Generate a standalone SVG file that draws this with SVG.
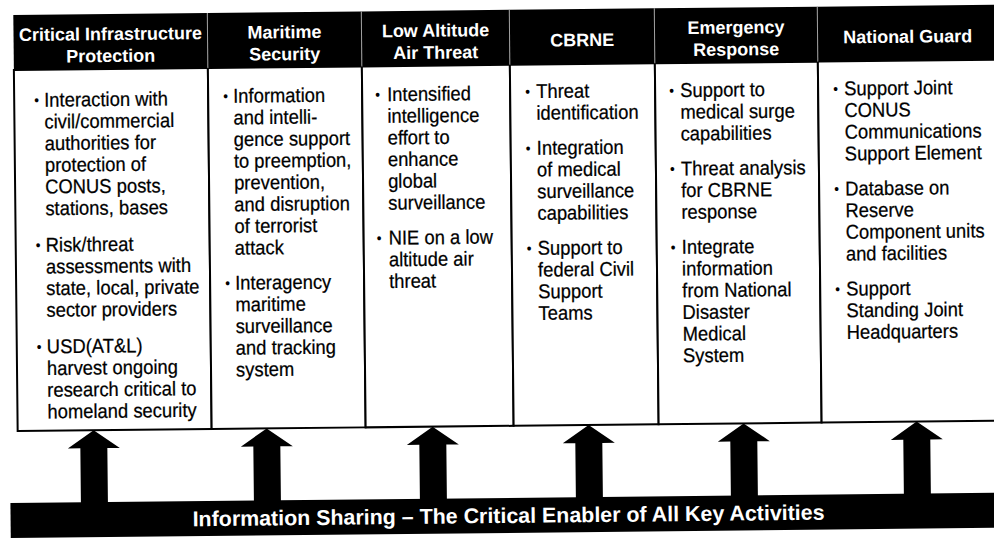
<svg xmlns="http://www.w3.org/2000/svg" width="994" height="540" viewBox="0 0 994 540">
<style>
.hdr{fill:#000}
.hsep{stroke:#a0a0a0;stroke-width:1}
.cell{fill:#fff;stroke:#000;stroke-width:2}
.ht{font-family:"Liberation Sans",Arial,Helvetica,sans-serif;font-weight:bold;font-size:18px;fill:#fff;text-anchor:middle}
.bt{font-family:"Liberation Sans",Arial,Helvetica,sans-serif;font-size:20px;fill:#000;stroke:#000;stroke-width:0.25}
.bu{font-family:"Liberation Sans",Arial,Helvetica,sans-serif;font-size:15px;fill:#000}
.arrow{fill:#000}
.bar{fill:#000}
.bart{font-family:"Liberation Sans",Arial,Helvetica,sans-serif;font-weight:bold;font-size:21.4px;fill:#fff;text-anchor:middle}
</style>
<rect width="994" height="540" fill="#fff"/>
<g transform="rotate(-0.6 497 270)">

<g id="connectors">
<path class="arrow" d="M92,426 L118,444 L105.5,444 L105.5,502 L78.5,502 L78.5,444 L66,444 Z"/>
<path class="arrow" d="M265,426 L291,444 L278.5,444 L278.5,502 L251.5,502 L251.5,444 L239,444 Z"/>
<path class="arrow" d="M431,426 L457,444 L444.5,444 L444.5,502 L417.5,502 L417.5,444 L405,444 Z"/>
<path class="arrow" d="M587,426 L613,444 L600.5,444 L600.5,502 L573.5,502 L573.5,444 L561,444 Z"/>
<path class="arrow" d="M742,426 L768,444 L755.5,444 L755.5,502 L728.5,502 L728.5,444 L716,444 Z"/>
<path class="arrow" d="M915,426 L941,444 L928.5,444 L928.5,502 L901.5,502 L901.5,444 L889,444 Z"/>
</g>

<g id="critical-infrastructure-protection">
<rect class="cell" x="16" y="65" width="194" height="361"/>
<rect class="hdr" x="16" y="10" width="194" height="55"/>
<text class="ht" x="113" y="36">Critical Infrastructure</text>
<text class="ht" x="113" y="58">Protection</text>
<g transform="translate(46,0) scale(0.92,1)">
<text class="bu" x="-10.9" y="100.5">•</text>
<text class="bt"><tspan x="0" y="102">Interaction with</tspan><tspan x="0" y="123.7">civil/commercial</tspan><tspan x="0" y="145.4">authorities for</tspan><tspan x="0" y="167.1">protection of</tspan><tspan x="0" y="188.8">CONUS posts,</tspan><tspan x="0" y="210.5">stations, bases</tspan></text>
<text class="bu" x="-10.9" y="245.5">•</text>
<text class="bt"><tspan x="0" y="247">Risk/threat</tspan><tspan x="0" y="268.7">assessments with</tspan><tspan x="0" y="290.4">state, local, private</tspan><tspan x="0" y="312.1">sector providers</tspan></text>
<text class="bu" x="-10.9" y="347.1">•</text>
<text class="bt"><tspan x="0" y="348.6">USD(AT&amp;L)</tspan><tspan x="0" y="370.3">harvest ongoing</tspan><tspan x="0" y="392">research critical to</tspan><tspan x="0" y="413.7">homeland security</tspan></text>
</g>
</g>

<g id="maritime-security">
<rect class="cell" x="210" y="65" width="154" height="361"/>
<rect class="hdr" x="210" y="10" width="154" height="55"/>
<line class="hsep" x1="210" y1="10" x2="210" y2="65"/>
<text class="ht" x="287" y="36">Maritime</text>
<text class="ht" x="287" y="58">Security</text>
<g transform="translate(235,0) scale(0.92,1)">
<text class="bu" x="-10.9" y="98.5">•</text>
<text class="bt"><tspan x="0" y="100">Information</tspan><tspan x="0" y="121.7">and intelli-</tspan><tspan x="0" y="143.4">gence support</tspan><tspan x="0" y="165.1">to preemption,</tspan><tspan x="0" y="186.8">prevention,</tspan><tspan x="0" y="208.5">and disruption</tspan><tspan x="0" y="230.2">of terrorist</tspan><tspan x="0" y="251.9">attack</tspan></text>
<text class="bu" x="-10.9" y="285.4">•</text>
<text class="bt"><tspan x="0" y="286.9">Interagency</tspan><tspan x="0" y="308.6">maritime</tspan><tspan x="0" y="330.3">surveillance</tspan><tspan x="0" y="352">and tracking</tspan><tspan x="0" y="373.7">system</tspan></text>
</g>
</g>

<g id="low-altitude-air-threat">
<rect class="cell" x="364" y="65" width="148" height="361"/>
<rect class="hdr" x="364" y="10" width="148" height="55"/>
<line class="hsep" x1="364" y1="10" x2="364" y2="65"/>
<text class="ht" x="438" y="36">Low Altitude</text>
<text class="ht" x="438" y="58">Air Threat</text>
<g transform="translate(389,0) scale(0.92,1)">
<text class="bu" x="-13" y="98.5">•</text>
<text class="bt"><tspan x="0" y="100">Intensified</tspan><tspan x="0" y="121.7">intelligence</tspan><tspan x="0" y="143.4">effort to</tspan><tspan x="0" y="165.1">enhance</tspan><tspan x="0" y="186.8">global</tspan><tspan x="0" y="208.5">surveillance</tspan></text>
<text class="bu" x="-13" y="242">•</text>
<text class="bt"><tspan x="0" y="243.5">NIE on a low</tspan><tspan x="0" y="265.2">altitude air</tspan><tspan x="0" y="286.9">threat</tspan></text>
</g>
</g>

<g id="cbrne">
<rect class="cell" x="512" y="65" width="145" height="361"/>
<rect class="hdr" x="512" y="10" width="145" height="55"/>
<line class="hsep" x1="512" y1="10" x2="512" y2="65"/>
<text class="ht" x="584.5" y="47">CBRNE</text>
<g transform="translate(538,0) scale(0.92,1)">
<text class="bu" x="-12" y="97">•</text>
<text class="bt"><tspan x="0" y="98.5">Threat</tspan><tspan x="0" y="120.2">identification</tspan></text>
<text class="bu" x="-12" y="153.7">•</text>
<text class="bt"><tspan x="0" y="155.2">Integration</tspan><tspan x="0" y="176.9">of medical</tspan><tspan x="0" y="198.6">surveillance</tspan><tspan x="0" y="220.3">capabilities</tspan></text>
<text class="bu" x="-12" y="253.8">•</text>
<text class="bt"><tspan x="0" y="255.3">Support to</tspan><tspan x="0" y="277">federal Civil</tspan><tspan x="0" y="298.7">Support</tspan><tspan x="0" y="320.4">Teams</tspan></text>
</g>
</g>

<g id="emergency-response">
<rect class="cell" x="657" y="65" width="163" height="361"/>
<rect class="hdr" x="657" y="10" width="163" height="55"/>
<line class="hsep" x1="657" y1="10" x2="657" y2="65"/>
<text class="ht" x="738.5" y="36">Emergency</text>
<text class="ht" x="738.5" y="58">Response</text>
<g transform="translate(682,0) scale(0.92,1)">
<text class="bu" x="-12" y="97.5">•</text>
<text class="bt"><tspan x="0" y="99">Support to</tspan><tspan x="0" y="120.7">medical surge</tspan><tspan x="0" y="142.4">capabilities</tspan></text>
<text class="bu" x="-12" y="175.9">•</text>
<text class="bt"><tspan x="0" y="177.4">Threat analysis</tspan><tspan x="0" y="199.1">for CBRNE</tspan><tspan x="0" y="220.8">response</tspan></text>
<text class="bu" x="-12" y="254.3">•</text>
<text class="bt"><tspan x="0" y="255.8">Integrate</tspan><tspan x="0" y="277.5">information</tspan><tspan x="0" y="299.2">from National</tspan><tspan x="0" y="320.9">Disaster</tspan><tspan x="0" y="342.6">Medical</tspan><tspan x="0" y="364.3">System</tspan></text>
</g>
</g>

<g id="national-guard">
<rect class="cell" x="820" y="65" width="184" height="361"/>
<rect class="hdr" x="820" y="10" width="184" height="55"/>
<line class="hsep" x1="820" y1="10" x2="820" y2="65"/>
<text class="ht" x="910" y="47">National Guard</text>
<g transform="translate(846,0) scale(0.92,1)">
<text class="bu" x="-12" y="97.5">•</text>
<text class="bt"><tspan x="0" y="99">Support Joint</tspan><tspan x="0" y="120.7">CONUS</tspan><tspan x="0" y="142.4">Communications</tspan><tspan x="0" y="164.1">Support Element</tspan></text>
<text class="bu" x="-12" y="197.6">•</text>
<text class="bt"><tspan x="0" y="199.1">Database on</tspan><tspan x="0" y="220.8">Reserve</tspan><tspan x="0" y="242.5">Component units</tspan><tspan x="0" y="264.2">and facilities</tspan></text>
<text class="bu" x="-12" y="297.7">•</text>
<text class="bt"><tspan x="0" y="299.2">Support</tspan><tspan x="0" y="320.9">Standing Joint</tspan><tspan x="0" y="342.6">Headquarters</tspan></text>
</g>
</g>

<g id="information-sharing">
<rect class="bar" x="8" y="498" width="1004" height="35"/>
<text class="bart" x="506" y="523">Information Sharing – The Critical Enabler of All Key Activities</text>
</g>

</g>
</svg>
